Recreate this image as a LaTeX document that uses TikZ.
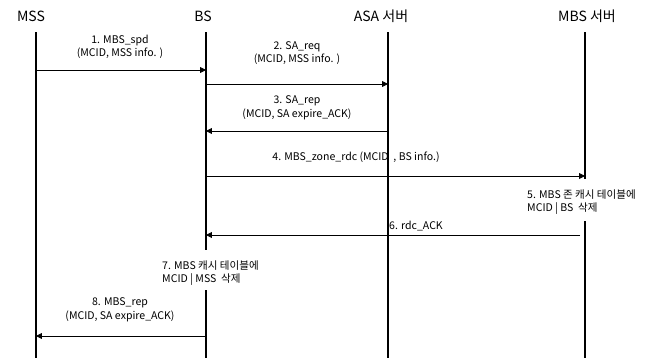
\documentclass[tikz,border=0pt]{standalone}
\usepackage{fontspec}
\setmainfont{Noto Sans CJK KR}
\usetikzlibrary{arrows.meta}
\tikzset{
  life/.style={line width=1.6pt},
  msg/.style={line width=0.7pt, -{Triangle[length=5pt,width=5pt]}},
  lbl/.style={font=\fontsize{9}{11.5}\selectfont, inner sep=0pt, align=center},
  note/.style={lbl, align=left, anchor=west},
  head/.style={font=\fontsize{12}{14}\selectfont, inner sep=0pt}
}
\begin{document}
\begin{tikzpicture}[x=0.03cm, y=-0.03cm, line cap=butt]
\useasboundingbox (0,0) rectangle (668,358);

% participants
\node[head] (mss) at (31,16) {MSS};
\node[head] (bs)  at (203,16) {BS};
\node[head] (asa) at (381,16) {ASA 서버};
\node[head] (mbs) at (587,16) {MBS 서버};

% lifeline ends
\coordinate (mssTop) at (36,32);
\coordinate (mssBot) at (36,358);
\coordinate (bsTop) at (206,32);
\coordinate (bsCut) at (206,250);
\coordinate (bsRes) at (206,290);
\coordinate (bsBot) at (206,358);
\coordinate (asaTop) at (388,32);
\coordinate (asaBot) at (388,358);
\coordinate (mbsTop) at (585,32);
\coordinate (mbsCut) at (585,179);
\coordinate (mbsRes) at (585,221);
\coordinate (mbsBot) at (585,358);

\draw[life] (mssTop) -- (mssBot);
\draw[life] (bsTop) -- (bsCut);
\draw[life] (bsRes) -- (bsBot);
\draw[life] (asaTop) -- (asaBot);
\draw[life] (mbsTop) -- (mbsCut);
\draw[life] (mbsRes) -- (mbsBot);

% message points on the lifelines
\coordinate (m1) at (36,70);   \coordinate (b1) at (206,70);
\coordinate (b2) at (206,84);  \coordinate (a2) at (388,84);
\coordinate (a3) at (388,131); \coordinate (b3) at (206,131);
\coordinate (b4) at (206,176); \coordinate (s4) at (585,176);
\coordinate (s6) at (580,235); \coordinate (b6) at (206,235);
\coordinate (b8) at (206,336); \coordinate (m8) at (36,336);

\draw[msg] (m1) -- (b1);
\draw[msg] (b2) -- (a2);
\draw[msg] (a3) -- (b3);
\draw[msg] (b4) -- (s4);
\draw[msg] (s6) -- (b6);
\draw[msg] (b8) -- (m8);

% labels
\node[lbl] (t1) at (120,47) {1. MBS\_spd\\(MCID, MSS info. )};
\node[lbl] (t2) at (297,53) {2. SA\_req\\(MCID, MSS info. )};
\node[lbl] (t3) at (297,108) {3. SA\_rep\\(MCID, SA expire\_ACK)};
\node[lbl] (t4) at (356,157) {4. MBS\_zone\_rdc (MCID\ \ , BS info.)};
\node[note] (t5) at (527,202) {5. MBS 존 캐시 테이블에\\MCID | BS\ \ 삭제};
\node[note] (t6) at (389,226) {6. rdc\_ACK};
\node[note] (t7) at (162,273) {7. MBS 캐시 테이블에\\MCID | MSS\ \ 삭제};
\node[lbl] (t8) at (120,310) {8. MBS\_rep\\(MCID, SA expire\_ACK)};
\end{tikzpicture}
\end{document}
